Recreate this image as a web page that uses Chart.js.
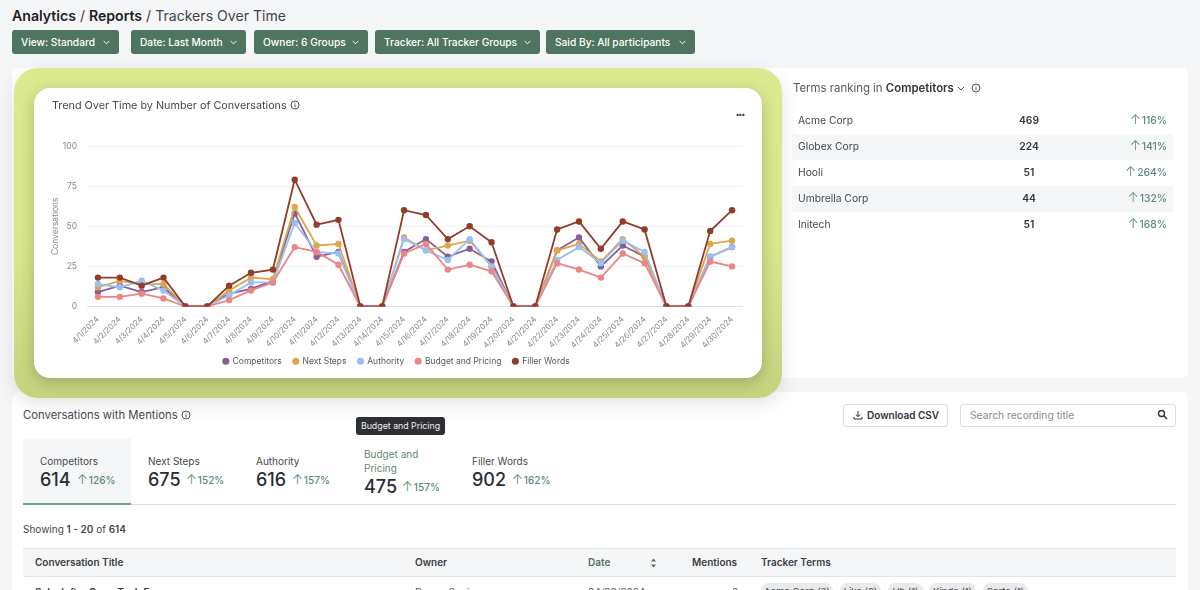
<!DOCTYPE html>
<html>
<head>
<meta charset="utf-8">
<script src="https://cdn.jsdelivr.net/npm/chart.js@4"></script>
<style>
  * { box-sizing: border-box; }
  html, body { margin: 0; width: 1200px; height: 590px; overflow: hidden; background: #f5f6f8; font-family: Inter, sans-serif; color: #33363b; }
  .abs { position: absolute; white-space: nowrap; }
  .crumbs { left: 12px; top: 7px; font-size: 14.1px; line-height: 18px; color: #3f4247; }
  .crumbs b { font-weight: 600; color: #1e2024; }
  .filter { position: absolute; top: 30px; height: 24px; background: #4f7560; color: #fff; border-radius: 3px; font-size: 10.2px; font-weight: 500; line-height: 24px; padding-left: 9px; white-space: nowrap; }
  .filter svg { position: absolute; right: 9px; top: 10px; }
  .panel { position: absolute; background: #fff; border-radius: 6px; }
  .blob { position: absolute; left: 14px; top: 68px; width: 768px; height: 330px; border-radius: 24px; background: linear-gradient(180deg, #dbe98f 0%, #d8e68c 55%, #c3d37e 100%); box-shadow: 0 6px 18px rgba(60,70,50,0.14); }
  .card { position: absolute; left: 34px; top: 88px; width: 728px; height: 290px; background: #fff; border-radius: 16px; box-shadow: 0 4px 14px rgba(50,60,40,0.28); }
  #chart { position: absolute; left: 0; top: 0; }
  .rank { position: absolute; left: 792px; width: 381px; height: 26px; line-height: 24.5px; font-size: 10.3px; color: #45484d; }
  .rank.alt { background: #f5f6f8; }
  .rank .nm { position: absolute; left: 6px; }
  .rank .ct { position: absolute; left: 187px; width: 100px; text-align: center; font-weight: 600; color: #33363b; }
  .rank .pc { position: absolute; right: 6px; color: #5b8a72; font-weight: 500; }
  .ar { font-size: 13px; font-weight: 300; line-height: 0; margin-right: 1px; }
  .tab-lbl { font-size: 10px; color: #45484d; line-height: 14px; }
  .tab-num { font-size: 18px; font-weight: 500; color: #2b2d31; line-height: 22px; }
  .tab-pc { font-size: 10px; color: #5b8a72; font-weight: 500; line-height: 22px; }
  .th { top: 555px; font-size: 10px; font-weight: 600; color: #3a3d42; line-height: 14px; }
  .cell { top: 585px; font-size: 10px; line-height: 14px; color: #55585d; }
  .chip { position: absolute; top: 583px; height: 16px; line-height: 18px; background: #e9eaec; border-radius: 8px; font-size: 9.5px; text-align: center; color: #45484d; white-space: nowrap; }
</style>
</head>
<body>
<div class="abs crumbs"><b>Analytics</b> / <b>Reports</b> / Trackers Over Time</div>

<div class="filter" style="left:12px;width:107px">View: Standard<svg width="7" height="5"><path d="M.7 1l2.8 2.8L6.3 1" fill="none" stroke="#fff"/></svg></div>
<div class="filter" style="left:131px;width:115px">Date: Last Month<svg width="7" height="5"><path d="M.7 1l2.8 2.8L6.3 1" fill="none" stroke="#fff"/></svg></div>
<div class="filter" style="left:254px;width:114px">Owner: 6 Groups<svg width="7" height="5"><path d="M.7 1l2.8 2.8L6.3 1" fill="none" stroke="#fff"/></svg></div>
<div class="filter" style="left:375px;width:165px">Tracker: All Tracker Groups<svg width="7" height="5"><path d="M.7 1l2.8 2.8L6.3 1" fill="none" stroke="#fff"/></svg></div>
<div class="filter" style="left:546px;width:149px">Said By: All participants<svg width="7" height="5"><path d="M.7 1l2.8 2.8L6.3 1" fill="none" stroke="#fff"/></svg></div>

<div class="panel" style="left:12px;top:68px;width:1176px;height:310px"></div>
<div class="panel" style="left:12px;top:392px;width:1176px;height:210px"></div>
<div class="blob"></div>
<div class="card">
  <canvas id="chart" width="728" height="290" style="width:728px;height:290px"></canvas>
  <div class="abs" style="left:18px;top:10px;font-size:10.8px;line-height:15px;color:#45484d">Trend Over Time by Number of Conversations <svg width="10" height="10" style="vertical-align:-1px"><circle cx="5" cy="5" r="4" fill="none" stroke="#555"/><path d="M5 4.5v3M5 2.5v1" stroke="#555"/></svg></div>
  <div class="abs" style="left:702px;top:23px;font-size:7px;line-height:8px;font-weight:700;color:#333;letter-spacing:-0.5px">&#8226;&#8226;&#8226;</div>
</div>

<div class="abs" style="left:793px;top:80px;font-size:11.4px;line-height:16px;color:#55585d">Terms ranking in <b style="font-weight:600;color:#33363b">Competitors</b> <svg width="8" height="6"><path d="M1 1l3 3 3-3" fill="none" stroke="#444"/></svg> <svg width="10" height="10" style="margin-left:3px;vertical-align:-1px"><circle cx="5" cy="5" r="4" fill="none" stroke="#555"/><path d="M5 4.5v3M5 2.5v1" stroke="#555"/></svg></div>
<div class="rank" style="top:108px"><span class="nm">Acme Corp</span><span class="ct">469</span><span class="pc"><span class="ar">&#8593;</span>116%</span></div>
<div class="rank alt" style="top:134px"><span class="nm">Globex Corp</span><span class="ct">224</span><span class="pc"><span class="ar">&#8593;</span>141%</span></div>
<div class="rank" style="top:160px"><span class="nm">Hooli</span><span class="ct">51</span><span class="pc"><span class="ar">&#8593;</span>264%</span></div>
<div class="rank alt" style="top:186px"><span class="nm">Umbrella Corp</span><span class="ct">44</span><span class="pc"><span class="ar">&#8593;</span>132%</span></div>
<div class="rank" style="top:212px"><span class="nm">Initech</span><span class="ct">51</span><span class="pc"><span class="ar">&#8593;</span>168%</span></div>

<div class="abs" style="left:23px;top:407px;font-size:11.3px;line-height:16px;color:#45484d">Conversations with Mentions <svg width="10" height="10" style="vertical-align:-1px"><circle cx="5" cy="5" r="4" fill="none" stroke="#555"/><path d="M5 4.5v3M5 2.5v1" stroke="#555"/></svg></div>
<div class="abs" style="left:843px;top:404px;width:105px;height:23px;background:#fff;border:1px solid #dcdee1;border-radius:3px;font-size:10px;font-weight:600;line-height:21px;padding-left:23px;color:#33363b">Download CSV</div>
<svg class="abs" style="left:853px;top:410px" width="10" height="10"><path d="M5 1v5.5M2.8 4.5L5 6.7l2.2-2.2M1 7v2h8V7" fill="none" stroke="#333"/></svg>
<div class="abs" style="left:960px;top:404px;width:216px;height:23px;background:#fff;border:1px solid #dcdee1;border-radius:3px;font-size:10.3px;line-height:21px;padding-left:9px;color:#8b8e93">Search recording title</div>
<svg class="abs" style="left:1157px;top:409px" width="11" height="11"><circle cx="4.5" cy="4.5" r="3" fill="none" stroke="#333" stroke-width="1.4"/><path d="M7 7l3 3" stroke="#333" stroke-width="1.6"/></svg>
<div class="abs" style="left:356px;top:417px;width:89px;height:18px;background:#2e2f33;border-radius:3px;color:#eee;font-size:8.8px;line-height:18px;text-align:center">Budget and Pricing</div>

<div style="position:absolute;left:23px;top:438px;width:108px;height:65px;background:#f5f6f8"></div>
<div style="position:absolute;left:23px;top:504px;width:1153px;height:1px;background:#dcdee1"></div>
<div style="position:absolute;left:23px;top:503px;width:108px;height:2px;background:#6ea284"></div>
<div class="abs tab-lbl" style="left:40px;top:454px">Competitors</div>
<div class="abs tab-num" style="left:40px;top:469px">614</div><div class="abs tab-pc" style="left:77px;top:469px"><span class="ar">&#8593;</span>126%</div>
<div class="abs tab-lbl" style="left:148px;top:454px">Next Steps</div>
<div class="abs tab-num" style="left:148px;top:469px">675</div><div class="abs tab-pc" style="left:186px;top:469px"><span class="ar">&#8593;</span>152%</div>
<div class="abs tab-lbl" style="left:256px;top:454px">Authority</div>
<div class="abs tab-num" style="left:256px;top:469px">616</div><div class="abs tab-pc" style="left:292px;top:469px"><span class="ar">&#8593;</span>157%</div>
<div class="abs tab-lbl" style="left:364px;top:447px;color:#5f8a72;white-space:normal;width:70px">Budget and Pricing</div>
<div class="abs tab-num" style="left:364px;top:476px">475</div><div class="abs tab-pc" style="left:402px;top:476px"><span class="ar">&#8593;</span>157%</div>
<div class="abs tab-lbl" style="left:472px;top:454px">Filler Words</div>
<div class="abs tab-num" style="left:472px;top:469px">902</div><div class="abs tab-pc" style="left:512px;top:469px"><span class="ar">&#8593;</span>162%</div>

<div class="abs" style="left:23px;top:522px;font-size:10px;line-height:14px;color:#45484d">Showing <b style="font-weight:600">1 - 20</b> of <b style="font-weight:600">614</b></div>
<div style="position:absolute;left:23px;top:548px;width:1153px;height:29px;background:#f5f6f8;border-top:1px solid #e4e5e8;border-bottom:1px solid #e4e5e8"></div>
<div class="abs th" style="left:35px">Conversation Title</div>
<div class="abs th" style="left:415px">Owner</div>
<div class="abs th" style="left:588px;color:#4f7560">Date</div>
<svg class="abs" style="left:650px;top:558px" width="7" height="10"><path d="M3.5 0.5L6 3.5H1zM3.5 9.5L6 6.5H1z" fill="#4f7560"/></svg>
<div class="abs th" style="left:692px">Mentions</div>
<div class="abs th" style="left:761px">Tracker Terms</div>

<div class="abs cell" style="left:35px;font-weight:600;color:#33363b">Salesloft + GreenTech Energy</div>
<div class="abs cell" style="left:415px">Donna Spoiz</div>
<div class="abs cell" style="left:588px">04/30/2024</div>
<div class="abs cell" style="left:732px">8</div>
<div class="chip" style="left:761px;width:72px">Acme Corp (3)</div>
<div class="chip" style="left:840px;width:41px">Like (2)</div>
<div class="chip" style="left:888px;width:35px">Uh (1)</div>
<div class="chip" style="left:929px;width:47px">Kinda (1)</div>
<div class="chip" style="left:983px;width:45px">Sorta (1)</div>

<script>
const dates = ['4/1/2024','4/2/2024','4/3/2024','4/4/2024','4/5/2024','4/6/2024','4/7/2024','4/8/2024','4/9/2024','4/10/2024',
  '4/11/2024','4/12/2024','4/13/2024','4/14/2024','4/15/2024','4/16/2024','4/17/2024','4/18/2024','4/19/2024','4/20/2024',
  '4/21/2024','4/22/2024','4/23/2024','4/24/2024','4/25/2024','4/26/2024','4/27/2024','4/28/2024','4/29/2024','4/30/2024'];

const competitors = [9,13,9,12,0,0,8,11,16,58,31,34,0,0,34,42,31,36,28,0,0,35,43,25,38,31,0,0,31,37];
const nextSteps   = [12,16,14,14,0,0,10,18,17,62,38,39,0,0,43,35,38,41,25,0,0,35,39,28,42,31,0,0,39,41];
const authority   = [14,12,16,10,0,0,7,15,15,52,34,33,0,0,42,35,29,42,25,0,0,29,37,27,41,34,0,0,31,37];
const budget      = [6,6,8,5,0,0,4,10,15,37,34,26,0,0,33,39,23,26,22,0,0,27,23,18,33,27,0,0,28,25];
const filler      = [18,18,13,18,0,0,13,21,23,79,51,54,0,0,60,57,42,50,40,0,0,48,53,36,53,48,0,0,47,60];

const yTicks = [0,25,50,75,100];

function line(label, data, color, order) {
  return {
    label, data, order,
    borderColor: color,
    backgroundColor: color,
    borderWidth: 1.8,
    pointRadius: 3.2,
    pointBorderWidth: 0,
    tension: 0
  };
}

// x labels run past the squeezed axis box, so widen the box they get clipped to
const xLabelRoom = {
  id: 'xLabelRoom',
  afterLayout(chart) { chart.scales.x.bottom += 14; }
};

new Chart(document.getElementById('chart'), {
  type: 'line',
  plugins: [xLabelRoom],
  data: {
    labels: dates,
    datasets: [
      line('Competitors', competitors, '#875f97', 5),
      line('Next Steps', nextSteps, '#dfa54a', 4),
      line('Authority', authority, '#9abff3', 3),
      line('Budget and Pricing', budget, '#ec8585', 2),
      line('Filler Words', filler, '#933c28', 1)
    ]
  },
  options: {
    responsive: false,
    animation: false,
    layout: { padding: { left: 16, right: 19, top: 58, bottom: 2.5 } },
    plugins: {
      tooltip: { enabled: false },
      legend: {
        position: 'bottom',
        labels: {
          usePointStyle: true,
          pointStyle: 'circle',
          boxWidth: 5,
          boxHeight: 5,
          padding: 11.5,
          color: '#55585d',
          font: { family: 'Inter', size: 8.5 },
          // keep dataset order in the legend, not draw order
          sort: (a, b) => a.datasetIndex - b.datasetIndex
        }
      }
    },
    scales: {
      x: {
        offset: true,
        afterFit: scale => { scale.height = 39; },
        grid: { display: false },
        border: { display: false },
        ticks: { color: '#85888f', font: { family: 'Inter', size: 8 }, minRotation: 45, maxRotation: 45, autoSkip: false, padding: 0 }
      },
      y: {
        min: 0,
        max: 100,
        afterBuildTicks: scale => { scale.ticks = yTicks.map(value => ({ value })); },
        afterFit: scale => { scale.width = 37; },
        title: { display: true, text: 'Conversations', color: '#85888f', font: { family: 'Inter', size: 8.5 }, padding: { top: 0, bottom: 6 } },
        grid: { color: ctx => ctx.tick.value === 0 ? '#dfe0ec' : '#eff0f3', drawTicks: false, lineWidth: 1 },
        border: { display: false },
        ticks: { color: '#85888f', font: { family: 'Inter', size: 8.5 }, padding: 10 }
      }
    }
  }
});
</script>
</body>
</html>
